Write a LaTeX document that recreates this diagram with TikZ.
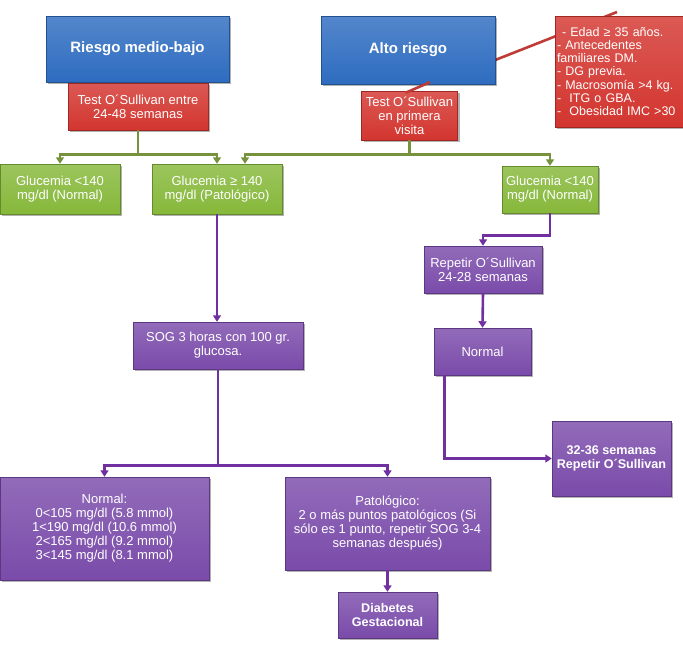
\documentclass[tikz,border=0pt]{standalone}
\usepackage{fontspec}
\setmainfont{Liberation Sans}
\usepackage{tikz}
\usetikzlibrary{arrows.meta,shadows,backgrounds}
\definecolor{boxblue}{HTML}{2E6CC0}
\definecolor{boxred}{HTML}{D3352F}
\definecolor{boxgreen}{HTML}{86B83A}
\definecolor{boxpurple}{HTML}{7A4BAA}
\definecolor{linegreen}{HTML}{76923C}
\definecolor{linepurple}{HTML}{7030A0}
\definecolor{linered}{HTML}{BE3B36}
\tikzset{
  box/.style={rectangle, draw=#1!75!black, line width=0.5pt,
    top color=#1!82!white, bottom color=#1, text=white, align=center,
    inner sep=2pt, font=\fontsize{13}{14}\selectfont,
    drop shadow={shadow xshift=2pt, shadow yshift=-2pt, opacity=0.3, fill=black}},
  bluebox/.style={box=boxblue, font=\bfseries\fontsize{15}{17}\selectfont},
  redbox/.style={box=boxred},
  greenbox/.style={box=boxgreen},
  purplebox/.style={box=boxpurple},
  boldbox/.style={box=boxpurple, font=\bfseries\fontsize{12.6}{14.5}\selectfont},
  gline/.style={draw=linegreen, line width=2.6pt},
  pline/.style={draw=linepurple, line width=2.6pt},
  rline/.style={draw=linered, line width=2.6pt},
  arrowhead/.style={-{Triangle[width=8pt,length=6.5pt]}}
}

\begin{document}
\begin{tikzpicture}[x=1pt,y=-1pt]
  \begin{scope}[on background layer]
    \fill[white] (0,0) rectangle (683,667);
  \end{scope}
  \useasboundingbox (0,0) rectangle (683,667);

  % risk groups and first test
  \node[bluebox, minimum width=183, minimum height=66] (rb) at (137.5,49) {Riesgo medio-bajo};
  \node[bluebox, minimum width=174, minimum height=68] (ar) at (408,50) {Alto riesgo};
  \node[redbox, align=left, text width=124pt, minimum height=111,
    font=\fontsize{12.5}{13.3}\selectfont] (fr) at (619,71.5)
    {\hspace{5pt}- Edad ≥ 35 años.\\- Antecedentes\\familiares DM.\\- DG previa.\\- Macrosomía >4 kg.\\-\ \ ITG o GBA.\\-\ \ Obesidad IMC >30};
  \node[redbox, minimum width=140, minimum height=47] (t1) at (138,106.5) {Test O´Sullivan entre\\24-48 semanas};
  \node[redbox, minimum width=96, minimum height=49] (t2) at (409.5,115.5) {Test O´Sullivan\\en primera\\visita};
  \coordinate (frc) at (617,12);

  % glucemia
  \node[greenbox, minimum width=120, minimum height=50] (g1) at (60,189) {Glucemia <140\\mg/dl (Normal)};
  \node[greenbox, minimum width=130, minimum height=50] (g2) at (217,189) {Glucemia ≥ 140\\mg/dl (Patológico)};
  \node[greenbox, minimum width=96, minimum height=47] (g3) at (550,189.5) {Glucemia <140\\mg/dl (Normal)};

  % second step
  \node[purplebox, minimum width=170, minimum height=47] (sog) at (218,345.5) {SOG 3 horas con 100 gr.\\glucosa.};
  \node[purplebox, minimum width=118, minimum height=47] (rep) at (483,269.5) {Repetir O´Sullivan\\24-28 semanas};
  \node[purplebox, minimum width=97, minimum height=47] (nor) at (482.5,351.5) {Normal};
  \node[boldbox, minimum width=119, minimum height=75] (rep2) at (611.5,458.5) {32-36 semanas\\Repetir O´Sullivan};
  \node[purplebox, minimum width=209, minimum height=103] (nml) at (104.5,528.5)
    {Normal:\\0<105 mg/dl (5.8 mmol)\\1<190 mg/dl (10.6 mmol)\\2<165 mg/dl (9.2 mmol)\\3<145 mg/dl (8.1 mmol)};
  \node[purplebox, minimum width=205, minimum height=93] (pat) at (387.5,523.5)
    {Patológico:\\2 o más puntos patológicos (Si\\sólo es 1 punto, repetir SOG 3-4\\semanas después)};
  \node[boldbox, minimum width=99, minimum height=46] (dg) at (387.5,615) {Diabetes\\Gestacional};

  % red links
  \begin{scope}[on background layer]
    \draw[rline] ([yshift=-10pt]ar.east) -- (frc);
  \end{scope}
  \draw[rline] ([xshift=22pt,yshift=2pt]ar.south) -- ([xshift=-4pt,yshift=-2pt]t2.north);

  % green links
  \draw[gline] (t1.south) -- ++(0,24) coordinate (s1);
  \draw[gline, arrowhead] (s1) -| (g1.north);
  \draw[gline, arrowhead] (s1) -| (g2.north);
  \draw[gline] (t2.south) -- ++(0,14) coordinate (s2);
  \draw[gline, arrowhead] (s2) -| ([xshift=28pt]g2.north);
  \draw[gline, arrowhead] (s2) -| (g3.north);

  % purple links
  \draw[pline, arrowhead] (g2.south) -- (g2.south |- sog.north);
  \draw[pline, arrowhead] (g3.south) -- ++(0,22) -| (rep.north);
  \draw[pline, arrowhead] (rep.south) -- (nor.north);
  \draw[pline, arrowhead] ([xshift=-38pt]nor.south) |- (rep2.west);
  \draw[pline] (sog.south) -- ++(0,96) coordinate (s3);
  \draw[pline, arrowhead] (s3) -| (nml.north);
  \draw[pline, arrowhead] (s3) -| (pat.north);
  \draw[pline, arrowhead] (pat.south) -- (dg.north);
\end{tikzpicture}
\end{document}
